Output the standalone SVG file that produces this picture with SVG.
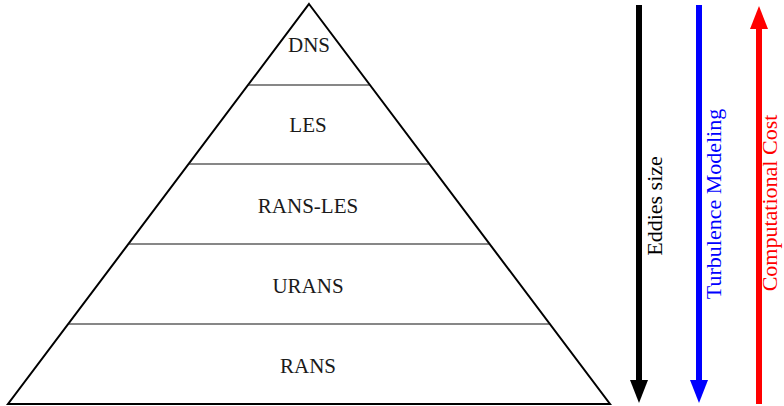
<svg xmlns="http://www.w3.org/2000/svg" width="784" height="406" viewBox="0 0 784 406">
<style>
.lbl{font-family:"Liberation Serif","DejaVu Serif",serif;font-size:21px;text-anchor:middle;fill:#1a1a1a}
.side{font-family:"Liberation Serif","DejaVu Serif",serif;font-size:22px;text-anchor:middle}
.outline{fill:none;stroke:#000;stroke-width:2;stroke-linejoin:miter}
.div{stroke:#111;stroke-width:1.2}
.arr{stroke-width:6;fill:none}
</style>
<defs>
<marker id="ahK" markerUnits="userSpaceOnUse" markerWidth="24" markerHeight="20" refX="1" refY="9" orient="auto"><path d="M0,0 L23,9 L0,18 z" fill="#000"/></marker>
<marker id="ahB" markerUnits="userSpaceOnUse" markerWidth="24" markerHeight="20" refX="1" refY="9" orient="auto"><path d="M0,0 L23,9 L0,18 z" fill="#0000ff"/></marker>
<marker id="ahR" markerUnits="userSpaceOnUse" markerWidth="24" markerHeight="20" refX="1" refY="9" orient="auto"><path d="M0,0 L23,9 L0,18 z" fill="#ff0000"/></marker>
</defs>
<g id="pyramid">
<polygon class="outline" points="309,4 610,404 8,404"/>
<line class="div" x1="248" y1="85" x2="370" y2="85"/>
<line class="div" x1="188.6" y1="164" x2="429.4" y2="164"/>
<line class="div" x1="128.4" y1="244" x2="489.6" y2="244"/>
<line class="div" x1="68.2" y1="324" x2="549.8" y2="324"/>
</g>
<g id="node-dns"><text class="lbl" x="309" y="52">DNS</text></g>
<g id="node-les"><text class="lbl" x="308" y="132">LES</text></g>
<g id="node-ransles"><text class="lbl" x="308" y="213">RANS-LES</text></g>
<g id="node-urans"><text class="lbl" x="308" y="293">URANS</text></g>
<g id="node-rans"><text class="lbl" x="308" y="373">RANS</text></g>
<g id="connectors">
<line class="arr" stroke="#000" x1="639" y1="5" x2="639" y2="381" marker-end="url(#ahK)"/>
<line class="arr" stroke="#0000ff" x1="699" y1="5" x2="699" y2="381" marker-end="url(#ahB)"/>
<line class="arr" stroke="#ff0000" x1="759" y1="404" x2="759" y2="28" marker-end="url(#ahR)"/>
</g>
<g id="label-eddies"><text class="side" fill="#000" transform="translate(662,206) rotate(-90)">Eddies size</text></g>
<g id="label-turb"><text class="side" fill="#0000ff" transform="translate(721,204) rotate(-90)">Turbulence Modeling</text></g>
<g id="label-cost"><text class="side" fill="#ff0000" transform="translate(777,203) rotate(-90)">Computational Cost</text></g>
</svg>
